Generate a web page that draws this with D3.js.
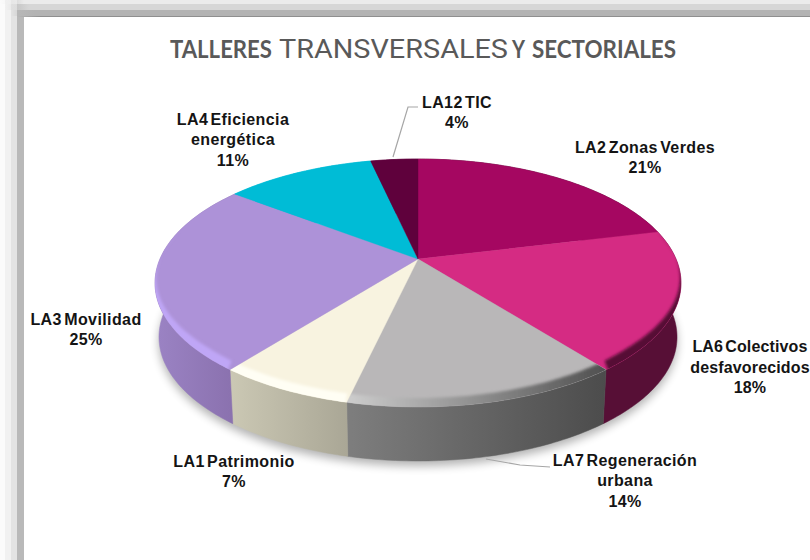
<!DOCTYPE html>
<html><head><meta charset="utf-8">
<script src="https://cdnjs.cloudflare.com/ajax/libs/d3/7.8.5/d3.min.js"></script>
<style>html,body{margin:0;padding:0;background:#fff;overflow:hidden}svg{display:block}</style>
</head><body><svg id="c" width="810" height="560"></svg>
<script>
const categories=["LA2 Zonas Verdes","LA6 Colectivos desfavorecidos","LA7 Regeneración urbana","LA1 Patrimonio","LA3 Movilidad","LA4 Eficiencia energética","LA12 TIC"];
const values=[21.2,18.2,14.2,7.0,24.8,11.1,3.5];
const labelLines=[["LA2 Zonas Verdes"],["LA6 Colectivos","desfavorecidos"],["LA7 Regeneración","urbana"],["LA1 Patrimonio"],["LA3 Movilidad"],["LA4 Eficiencia","energética"],["LA12 TIC"]];
const topColors=["#a50761","#d52b83","#b9b7b8","#f8f3e0","#ad92d8","#00bcd6","#5f013c"];
const wallColors=[["#570f36","#570f36"],["#570f36","#570f36"],["#4c4c4c","#7e7e7e"],["#aaa796","#cbc8b4"],["#8a71ae","#9b83c4"],["#00bcd6","#00bcd6"],["#5f013c","#5f013c"]];
const bevelColors=[["#570f36","#570f36"],["#570f36","#570f36"],["#505050","#cdcdcd"],["#fffef4","#fffef4"],["#bfa6f6","#bfa6f6"],["#00bcd6","#00bcd6"],["#5f013c","#5f013c"]];
const titleParts=[["TALLERES",170,102,"700 25px Lato"],["TRANSVERSALES",279,229,"400 26px Roboto"],["Y",512,13,"700 25px Lato"],["SECTORIALES",532,144,"700 25px Lato"]];
const frameLeft=["#fbfbfb","#f1f1f1","#e3e3e3","#b9b9b9"];
const frameTop=["#ebebeb","#d6d6d6","#b3b3b3","#8f8f8f"];

const svg=d3.select("#c"),W=810,H=560;
const defs=svg.append("defs");
const blur=(id,s)=>defs.append("filter").attr("id",id).attr("x","-20%").attr("y","-20%").attr("width","140%").attr("height","140%").append("feGaussianBlur").attr("stdDeviation",s);
blur("sh",5);blur("bv",1.8);
const grad=(id,cols,x1,x2)=>{const g=defs.append("linearGradient").attr("id",id).attr("gradientUnits","userSpaceOnUse").attr("x1",x1).attr("x2",x2).attr("y1",0).attr("y2",0);
  g.append("stop").attr("offset",0).attr("stop-color",cols[0]);g.append("stop").attr("offset",1).attr("stop-color",cols[1]);return g;};

// frame
const frameX=[0,5,11,17],frameY=[0,4,10,16];
frameLeft.forEach((c,i)=>svg.append("rect").attr("x",frameX[i]).attr("y",0).attr("width",W).attr("height",H).attr("fill",c));
frameTop.forEach((c,i)=>{
  const g=defs.append("linearGradient").attr("id","ft"+i);
  g.append("stop").attr("offset",frameX[i]/W).attr("stop-color",c).attr("stop-opacity",0);
  g.append("stop").attr("offset",(frameX[i]+24)/W).attr("stop-color",c).attr("stop-opacity",1);
  svg.append("rect").attr("x",0).attr("y",frameY[i]).attr("width",W).attr("height",(i<3?frameY[i+1]:17)-frameY[i]).attr("fill",`url(#ft${i})`);
});
svg.append("rect").attr("x",24).attr("y",17).attr("width",W-24).attr("height",H-17).attr("fill","#fff");

// title
titleParts.forEach(([t,x,w,f])=>svg.append("text").attr("x",x).attr("y",58).attr("textLength",w).attr("lengthAdjust","spacingAndGlyphs").style("font",f).attr("fill","#595959").text(t));

// perspective projection of a flat disc
const cx=418,cy=259,R=258,K=119.35,P=0.1935,DEPTH=54,TAPER=0.985;
const proj=a=>{const u=Math.sin(a),v=-Math.cos(a),w=1-P*v;return [cx+R*u/w,cy+K*v/w];};
const under=a=>{const [x,y]=proj(a);return [cx+(x-cx)*TAPER,y+DEPTH];};
const bevelAmount=a=>Math.max(0,Math.min(1,(-Math.cos(a)+0.25)/0.95));
const inner=a=>{const [x,y]=proj(a),f=bevelAmount(a);return [cx+(x-cx)*(1-0.008*f),y-9*f];};
const outer=a=>{const [x,y]=proj(a),f=bevelAmount(a);return [cx+(x-cx)*(1+0.02*f),y+5*f];};
const samples=(a0,a1)=>{const n=Math.max(2,Math.ceil((a1-a0)/(Math.PI/180)));return d3.range(n+1).map(i=>a0+(a1-a0)*i/n);};
const line=d3.line();

const arcs=d3.pie().sort(null).value(d=>d)(values);

// shadow
svg.append("path").attr("d",line(samples(0,2*Math.PI).map(under))+"Z").attr("fill","#000").attr("opacity",0.3).attr("filter","url(#sh)").attr("transform","translate(0,5)");

// walls
const gWall=svg.append("g");
arcs.forEach((d,i)=>{
  const s=samples(d.startAngle,d.endAngle),top=s.map(proj),bot=s.map(under).reverse();
  const xs=top.map(p=>p[0]);
  grad("w"+i,wallColors[i],d3.max(xs),d3.min(xs));
  gWall.append("path").attr("d",line(top.concat(bot))+"Z").attr("fill",`url(#w${i})`).attr("stroke",`url(#w${i})`).attr("stroke-width",0.5);
});

// top face
const gTop=svg.append("g");
arcs.forEach((d,i)=>{
  const s=samples(d.startAngle,d.endAngle);
  const face=line([[cx,cy]].concat(s.map(proj)))+"Z";
  defs.append("clipPath").attr("id","cl"+i).append("path").attr("d",face);
  gTop.append("path").attr("d",face).attr("fill",topColors[i]).attr("stroke",topColors[i]).attr("stroke-width",0.4);
  const xs=s.map(proj).map(p=>p[0]);
  grad("b"+i,bevelColors[i],d3.max(xs),d3.min(xs));
  const ring=s.map(outer).concat(s.slice().reverse().map(inner));
  gTop.append("g").attr("clip-path",`url(#cl${i})`).append("path").attr("d",line(ring)+"Z").attr("fill",`url(#b${i})`).attr("filter","url(#bv)");
});

// leader lines
const leaders=[[[393,157],[408,107],[418,107]],[[486,459],[520,465],[550,467]]];
leaders.forEach(l=>svg.append("path").attr("d",line(l)).attr("fill","none").attr("stroke","#a6a6a6").attr("stroke-width",1.2));

// labels
const labelAt=[[645,147],[750,346.5],[625,460],[234,461],[86,319],[233,119],[457,102]];
const gL=svg.append("g").attr("text-anchor","middle").style("font","700 16px 'Liberation Sans'").style("letter-spacing","0.4px").style("word-spacing","-2.5px").attr("fill","#141414");
categories.forEach((c,i)=>{
  const rows=labelLines[i].concat([Math.round(values[i])+"%"]);
  rows.forEach((r,j)=>gL.append("text").attr("x",labelAt[i][0]).attr("y",labelAt[i][1]+j*20.5).attr("dy","0.35em").style("letter-spacing",i===1?"0.15px":null).text(r));
});
</script></body></html>
